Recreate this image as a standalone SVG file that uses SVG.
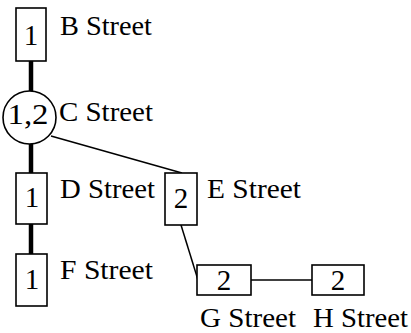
<svg xmlns="http://www.w3.org/2000/svg" width="411" height="333" viewBox="0 0 411 333">
<style>
.box{fill:#fff;stroke:#000;stroke-width:1.6}
.thick{stroke:#000;stroke-width:4.5;fill:none}
.thin{stroke:#000;stroke-width:1.5;fill:none}
text{font-family:"Liberation Serif","DejaVu Serif","Times New Roman",serif;font-size:27px;fill:#000}
.num{text-anchor:middle;font-size:29px}
</style>
<rect width="411" height="333" fill="#fff"/>
<g id="connectors">
<line class="thick" x1="31" y1="61" x2="31" y2="91"/>
<line class="thick" x1="31" y1="143" x2="31" y2="173"/>
<line class="thick" x1="31" y1="224" x2="31" y2="254"/>
<line class="thin" x1="51" y1="136" x2="182" y2="173"/>
<line class="thin" x1="181" y1="225" x2="198" y2="280"/>
<line class="thin" x1="251" y1="280" x2="312" y2="280"/>
</g>
<g id="B">
<rect class="box" x="16" y="8" width="30" height="53"/>
<text class="num" x="31" y="45">1</text>
<text x="60" y="35" textLength="92" lengthAdjust="spacingAndGlyphs">B Street</text>
</g>
<g id="C">
<circle class="box" cx="29.5" cy="117.5" r="26.5"/>
<text class="num" x="28" y="124" textLength="41" lengthAdjust="spacingAndGlyphs">1,2</text>
<text x="59" y="121" textLength="94" lengthAdjust="spacingAndGlyphs">C Street</text>
</g>
<g id="D">
<rect class="box" x="16" y="173" width="31" height="51"/>
<text class="num" x="32" y="207">1</text>
<text x="60" y="198" textLength="95" lengthAdjust="spacingAndGlyphs">D Street</text>
</g>
<g id="E">
<rect class="box" x="165" y="173" width="32" height="52"/>
<text class="num" x="181" y="208">2</text>
<text x="207" y="198" textLength="94" lengthAdjust="spacingAndGlyphs">E Street</text>
</g>
<g id="F">
<rect class="box" x="16" y="254" width="31" height="52"/>
<text class="num" x="32" y="289">1</text>
<text x="60" y="279" textLength="93" lengthAdjust="spacingAndGlyphs">F Street</text>
</g>
<g id="G">
<rect class="box" x="197" y="265" width="54" height="30"/>
<text class="num" x="224" y="290">2</text>
<text x="200" y="327" textLength="96" lengthAdjust="spacingAndGlyphs">G Street</text>
</g>
<g id="H">
<rect class="box" x="312" y="265" width="52" height="30"/>
<text class="num" x="338" y="290">2</text>
<text x="313" y="327" textLength="95" lengthAdjust="spacingAndGlyphs">H Street</text>
</g>
</svg>
